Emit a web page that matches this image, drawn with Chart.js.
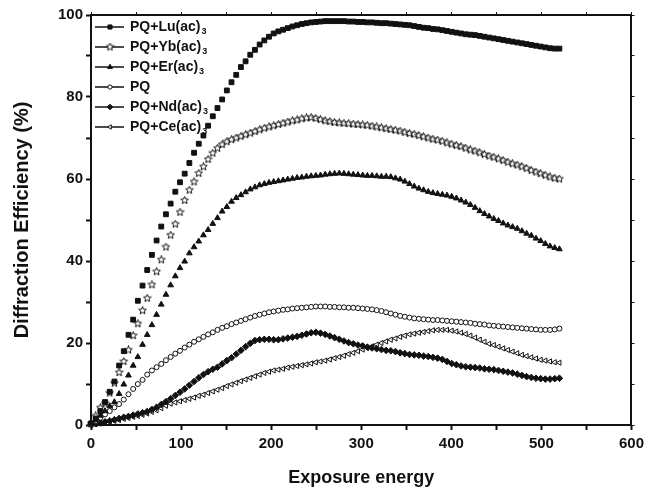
<!DOCTYPE html>
<html>
<head>
<meta charset="utf-8">
<script src="https://cdn.jsdelivr.net/npm/chart.js@4"></script>
<style>
  body { margin: 0; background: #fff; }
  #wrap { width: 649px; height: 493px; }
</style>
</head>
<body>
<div id="wrap"><canvas id="deChart"></canvas></div>
<script>
// exposure energy (x) shared by every series
const exposure = [
  0, 5.2, 10.4, 15.6, 20.8, 26, 31.2, 36.4, 41.6, 46.8,
  52, 57.2, 62.4, 67.6, 72.8, 78, 83.2, 88.4, 93.6, 98.8,
  104, 109.2, 114.4, 119.6, 124.8, 130, 135.2, 140.4, 145.6, 150.8,
  156, 161.2, 166.4, 171.6, 176.8, 182, 187.2, 192.4, 197.6, 202.8,
  208, 213.2, 218.4, 223.6, 228.8, 234, 239.2, 244.4, 249.6, 254.8,
  260, 265.2, 270.4, 275.6, 280.8, 286, 291.2, 296.4, 301.6, 306.8,
  312, 317.2, 322.4, 327.6, 332.8, 338, 343.2, 348.4, 353.6, 358.8,
  364, 369.2, 374.4, 379.6, 384.8, 390, 395.2, 400.4, 405.6, 410.8,
  416, 421.2, 426.4, 431.6, 436.8, 442, 447.2, 452.4, 457.6, 462.8,
  468, 473.2, 478.4, 483.6, 488.8, 494, 499.2, 504.4, 509.6, 514.8,
  520
];

const luValues = [
  0.4, 1.6, 3.4, 5.6, 8.1, 10.6, 14.5, 18, 22, 25.7,
  30.3, 34, 37.8, 41.5, 45, 48.4, 51.4, 54, 56.9, 59.2,
  61.3, 63.9, 66.4, 68.6, 70.6, 73, 75.3, 77.3, 79.4, 81.6,
  83.6, 85.4, 87.3, 88.7, 90.3, 91.5, 92.8, 93.8, 94.7, 95.5,
  96, 96.4, 96.8, 97.2, 97.5, 97.8, 98, 98.2, 98.3, 98.4,
  98.5, 98.5, 98.5, 98.5, 98.5, 98.4, 98.4, 98.3, 98.3, 98.2,
  98.2, 98.1, 98, 98, 97.9, 97.8, 97.7, 97.6, 97.5, 97.3,
  97.1, 96.9, 96.8, 96.6, 96.5, 96.3, 96.1, 95.9, 95.7, 95.5,
  95.3, 95.2, 95.1, 94.9, 94.7, 94.5, 94.3, 94.1, 93.9, 93.7,
  93.5, 93.3, 93.1, 92.9, 92.7, 92.5, 92.3, 92.1, 91.9, 91.8,
  91.8
];

const ybValues = [
  0.3, 2.2, 4.2, 5.3, 7.8, 10.2, 12.8, 15.5, 18.3, 21.8,
  24.7, 27.9, 30.9, 34.2, 37.4, 40.3, 43.4, 46.3, 49, 51.9,
  54.8, 57.3, 59.3, 61.4, 63, 64.8, 66.3, 67.5, 68.4, 69.1,
  69.6, 70, 70.4, 70.8, 71.2, 71.6, 72, 72.4, 72.7, 73,
  73.3, 73.6, 73.9, 74.2, 74.4, 74.7, 74.9, 75, 74.8, 74.5,
  74.2, 74, 73.8, 73.7, 73.6, 73.5, 73.4, 73.3, 73.2, 73.1,
  72.9, 72.7, 72.5, 72.3, 72.1, 71.9, 71.7, 71.4, 71.1, 70.9,
  70.6, 70.3, 70, 69.7, 69.5, 69.2, 68.8, 68.5, 68.2, 67.9,
  67.5, 67.1, 66.8, 66.4, 66, 65.6, 65.3, 64.9, 64.5, 64.1,
  63.7, 63.4, 63, 62.6, 62.1, 61.7, 61.3, 60.9, 60.5, 60.2,
  60
];

const erValues = [
  0.2, 1.2, 2.3, 3.4, 4.6, 5.6, 7.6, 9.9, 12.1, 14.5,
  16.6, 19.6, 22, 24.4, 26.9, 29.4, 31.8, 34.1, 36.3, 38.3,
  39.9, 41.9, 43.4, 44.8, 46.3, 47.6, 49.1, 50.5, 52.1, 53.2,
  54.5, 55.4, 56.1, 56.8, 57.5, 58, 58.5, 58.8, 59.1, 59.3,
  59.5, 59.7, 59.9, 60.1, 60.3, 60.4, 60.6, 60.7, 60.8, 60.9,
  61.1, 61.2, 61.3, 61.4, 61.3, 61.2, 61.1, 61, 60.9, 60.8,
  60.8, 60.7, 60.6, 60.6, 60.5, 60.2, 59.9, 59.4, 58.8, 58.2,
  57.7, 57.3, 56.9, 56.6, 56.4, 56.2, 56, 55.7, 55.3, 54.8,
  54.3, 53.7, 53, 52.2, 51.5, 50.9, 50.3, 49.8, 49.2, 48.7,
  48.3, 47.9, 47.3, 46.7, 46.2, 45.5, 44.9, 44.2, 43.6, 43.2,
  42.9
];

const pqValues = [
  0.3, 1, 1.8, 2.6, 3.4, 4.3, 5.1, 6.2, 7.5, 8.8,
  10, 11, 12.3, 13.3, 14.1, 14.9, 15.8, 16.6, 17.4, 18.1,
  18.9, 19.6, 20.3, 20.9, 21.5, 22.1, 22.6, 23.2, 23.7, 24.1,
  24.6, 25, 25.4, 25.8, 26.2, 26.6, 26.9, 27.2, 27.5, 27.7,
  27.9, 28.1, 28.2, 28.4, 28.5, 28.6, 28.7, 28.8, 28.9, 28.9,
  28.9, 28.8, 28.8, 28.7, 28.7, 28.6, 28.6, 28.5, 28.4, 28.3,
  28.2, 28, 27.8, 27.5, 27.2, 26.9, 26.6, 26.4, 26.2, 26,
  25.9, 25.8, 25.7, 25.6, 25.6, 25.5, 25.4, 25.3, 25.2, 25.1,
  25, 24.9, 24.7, 24.6, 24.5, 24.3, 24.2, 24.1, 24, 23.9,
  23.8, 23.7, 23.6, 23.5, 23.4, 23.3, 23.2, 23.2, 23.2, 23.3,
  23.5
];

const ndValues = [
  0.1, 0.3, 0.5, 0.8, 1, 1.3, 1.6, 1.9, 2.1, 2.4,
  2.7, 3, 3.3, 3.8, 4.3, 5, 5.7, 6.4, 7.2, 8,
  8.8, 9.7, 10.6, 11.5, 12.3, 13, 13.6, 14.1, 14.9, 15.7,
  16.4, 17.3, 18.2, 19.1, 19.9, 20.6, 20.8, 20.9, 20.9, 20.8,
  20.8, 21, 21.2, 21.4, 21.6, 21.9, 22.2, 22.5, 22.6, 22.4,
  22.1, 21.7, 21.3, 20.9, 20.5, 20.1, 19.8, 19.5, 19.3, 19,
  18.8, 18.6, 18.4, 18.2, 18.1, 17.9, 17.6, 17.4, 17.2, 17.1,
  17, 16.8, 16.7, 16.5, 16.3, 16, 15.5, 15, 14.7, 14.4,
  14.2, 14.1, 14, 13.9, 13.7, 13.6, 13.5, 13.3, 13.1, 12.9,
  12.7, 12.4, 12.1, 11.8, 11.6, 11.4, 11.3, 11.2, 11.2, 11.3,
  11.4
];

const ceValues = [
  0, 0.2, 0.4, 0.6, 0.8, 1, 1.2, 1.5, 1.7, 2,
  2.2, 2.5, 2.8, 3.2, 3.6, 4.1, 4.7, 5.2, 5.5, 5.8,
  6.1, 6.4, 6.7, 7.1, 7.4, 7.8, 8.2, 8.6, 9, 9.5,
  9.9, 10.3, 10.7, 11.1, 11.5, 11.9, 12.3, 12.7, 13, 13.3,
  13.5, 13.7, 14, 14.2, 14.4, 14.6, 14.8, 15, 15.3, 15.5,
  15.7, 16, 16.3, 16.6, 16.9, 17.3, 17.6, 18, 18.4, 18.8,
  19.2, 19.6, 20, 20.4, 20.8, 21.1, 21.5, 21.8, 22.1, 22.3,
  22.5, 22.7, 22.9, 23.1, 23.2, 23.2, 23.2, 23, 22.8, 22.5,
  22.2, 21.8, 21.3, 20.8, 20.3, 19.8, 19.5, 19.1, 18.7, 18.3,
  17.9, 17.5, 17.1, 16.8, 16.5, 16.2, 15.9, 15.7, 15.5, 15.3,
  15.2
];

const seriesNames = ["PQ+Lu(ac)", "PQ+Yb(ac)", "PQ+Er(ac)", "PQ", "PQ+Nd(ac)", "PQ+Ce(ac)"];
const seriesSubs = ["3", "3", "3", "", "3", "3"];
const seriesValues = [luValues, ybValues, erValues, pqValues, ndValues, ceValues];

const xTicks = [0, 100, 200, 300, 400, 500, 600];
const yTicks = [0, 20, 40, 60, 80, 100];

const FONT = "'Liberation Sans', Arial, Helvetica, sans-serif";
const INK = "#111";

// open five-point star for the Yb series
function makeStar() {
  const c = document.createElement("canvas");
  c.width = 9;
  c.height = 9;
  const g = c.getContext("2d");
  g.beginPath();
  for (let k = 0; k < 10; k++) {
    const r = k % 2 === 0 ? 4 : 1.8;
    const a = -Math.PI / 2 + (k * Math.PI) / 5;
    const px = 4.5 + r * Math.cos(a);
    const py = 4.5 + r * Math.sin(a);
    if (k === 0) g.moveTo(px, py);
    else g.lineTo(px, py);
  }
  g.closePath();
  g.fillStyle = "#fff";
  g.fill();
  g.lineWidth = 1;
  g.strokeStyle = INK;
  g.stroke();
  return c;
}
const starImg = makeStar();

const markerStyles = [
  { pointStyle: "rect", radius: 3.4, fill: INK, rotation: 0 },
  { pointStyle: starImg, radius: 4, fill: "#fff", rotation: 0 },
  { pointStyle: "triangle", radius: 3.3, fill: INK, rotation: 0 },
  { pointStyle: "circle", radius: 2.5, fill: "#fff", rotation: 0 },
  { pointStyle: "rectRot", radius: 3.3, fill: INK, rotation: 0 },
  { pointStyle: "triangle", radius: 3, fill: "#fff", rotation: -90 },
];

const datasets = seriesValues.map((vals, i) => ({
  label: seriesNames[i] + seriesSubs[i],
  data: exposure.map((x, j) => ({ x: x, y: vals[j] })),
  showLine: false,
  pointStyle: markerStyles[i].pointStyle,
  pointRadius: markerStyles[i].radius,
  pointRotation: markerStyles[i].rotation,
  pointBackgroundColor: markerStyles[i].fill,
  pointBorderColor: INK,
  pointBorderWidth: 1,
  clip: false,
}));

// legend drawn inside the plot, with subscripts
const insideLegend = {
  id: "insideLegend",
  afterDraw(chart) {
    const ctx = chart.ctx;
    const drawPoint = Chart.helpers && Chart.helpers.drawPoint;
    ctx.save();
    seriesNames.forEach((name, i) => {
      const y = 27 + i * 20;
      ctx.strokeStyle = INK;
      ctx.lineWidth = 1.5;
      ctx.beginPath();
      ctx.moveTo(95, y);
      ctx.lineTo(124, y);
      ctx.stroke();
      const m = markerStyles[i];
      if (drawPoint) {
        ctx.fillStyle = m.fill;
        ctx.strokeStyle = INK;
        ctx.lineWidth = 1;
        drawPoint(ctx, { pointStyle: m.pointStyle, radius: m.radius * 0.85, borderWidth: 1, rotation: m.rotation }, 110, y);
      }
      ctx.fillStyle = INK;
      ctx.textBaseline = "middle";
      ctx.textAlign = "left";
      ctx.font = "bold 14px " + FONT;
      ctx.fillText(name, 130, y);
      if (seriesSubs[i]) {
        const w = ctx.measureText(name).width;
        ctx.font = "bold 9px " + FONT;
        ctx.fillText(seriesSubs[i], 130 + w + 1, y + 5);
      }
    });
    ctx.restore();
  },
};

const ctx = document.getElementById("deChart").getContext("2d");

const chart = new Chart(ctx, {
  type: "scatter",
  data: { datasets: datasets },
  options: {
    responsive: true,
    maintainAspectRatio: false,
    animation: false,
    layout: { padding: 0 },
    plugins: {
      legend: { display: false },
      tooltip: { enabled: false },
    },
    scales: {
      x: {
        type: "linear",
        position: "bottom",
        min: 0,
        max: 600,
        afterFit: (s) => { s.height = 68; },
        ticks: {
          stepSize: 50,
          autoSkip: false,
          maxRotation: 0,
          padding: 5,
          color: INK,
          font: { family: FONT, size: 15, weight: "bold" },
          callback: (v) => (xTicks.includes(v) ? v : ""),
        },
        grid: { drawOnChartArea: false, tickLength: 5, tickWidth: 2, tickColor: INK },
        border: { display: true, color: INK, width: 2 },
        title: {
          display: true,
          text: "Exposure energy",
          color: INK,
          font: { family: FONT, size: 18, weight: "bold" },
          padding: { top: 0, bottom: 4 },
        },
      },
      x2: {
        type: "linear",
        position: "top",
        min: 0,
        max: 600,
        afterFit: (s) => { s.height = 15; },
        ticks: { stepSize: 50, display: false },
        grid: { drawOnChartArea: false, tickLength: 3, tickWidth: 1, tickColor: INK },
        border: { display: true, color: INK, width: 2 },
      },
      y: {
        type: "linear",
        position: "left",
        min: 0,
        max: 100,
        afterFit: (s) => { s.width = 91; },
        ticks: {
          stepSize: 10,
          autoSkip: false,
          padding: 3,
          color: INK,
          font: { family: FONT, size: 15, weight: "bold" },
          callback: (v) => (yTicks.includes(v) ? v : ""),
        },
        grid: { drawOnChartArea: false, tickLength: 5, tickWidth: 2, tickColor: INK },
        border: { display: true, color: INK, width: 2 },
        title: {
          display: true,
          text: "Diffraction Efficiency (%)",
          color: INK,
          font: { family: FONT, size: 20, weight: "bold" },
          padding: { top: 10, bottom: 0 },
        },
      },
      y2: {
        type: "linear",
        position: "right",
        min: 0,
        max: 100,
        afterFit: (s) => { s.width = 14; },
        ticks: { stepSize: 10, display: false },
        grid: { drawOnChartArea: false, tickLength: 3, tickWidth: 1, tickColor: INK },
        border: { display: true, color: INK, width: 2 },
      },
    },
  },
  plugins: [insideLegend],
});
</script>
</body>
</html>
